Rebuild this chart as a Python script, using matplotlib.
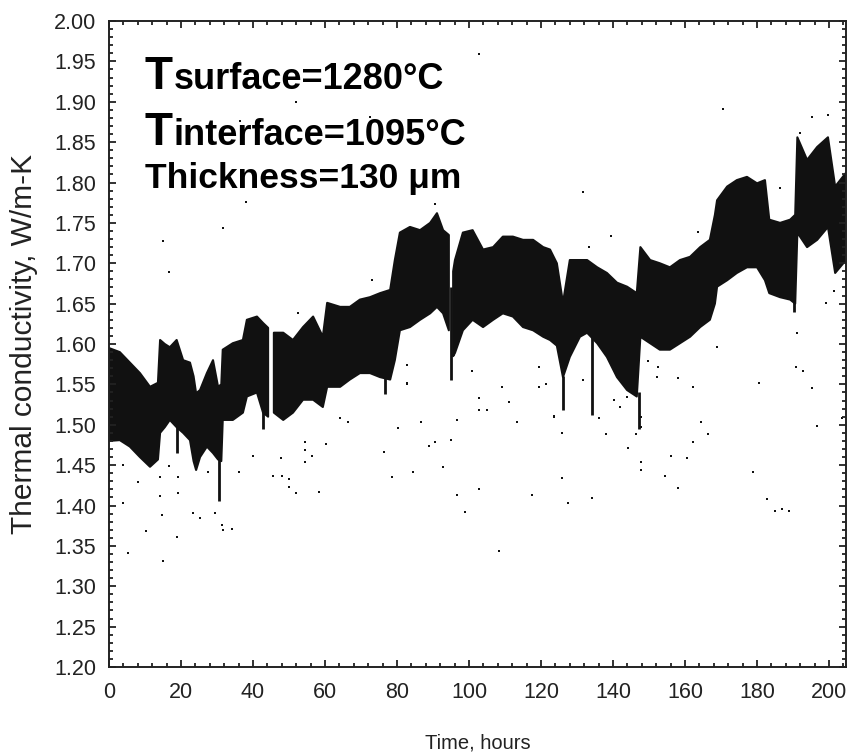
import numpy as np
import matplotlib
matplotlib.use('Agg')
import matplotlib.pyplot as plt
from matplotlib.ticker import MultipleLocator, FormatStrFormatter

# nan marks short gaps where no data was logged.
time_h = [0.0, 3.0, 5.8, 8.6, 11.4, 13.6, 14.2, 15.5, 16.9, 18.8,
          20.6, 22.5, 23.5, 24.2, 25.3, 27.2, 28.9, 30.3, 31.2, 31.6,
          34.4, 37.2, 38.3, 41.1, 42.8, 44.2, 45.0, 45.8, 48.4, 51.1,
          53.9, 56.7, 59.4, 60.6, 64.2, 66.9, 69.7, 72.5, 75.3, 78.1,
          79.4, 80.8, 83.6, 86.4, 89.2, 91.1, 92.8, 94.4, 95.0, 95.6,
          96.1, 98.3, 101.0, 103.9, 106.7, 109.4, 112.2, 115.0, 117.8, 120.6,
          122.5, 124.4, 126.1, 128.0, 130.8, 132.8, 135.6, 138.3, 141.1, 143.9,
          146.6, 147.6, 150.3, 153.0, 155.8, 158.6, 161.4, 164.2, 166.9, 168.3,
          168.9, 171.7, 174.4, 177.2, 180.0, 182.2, 183.4, 186.4, 189.2, 190.6,
          191.2, 193.9, 196.7, 199.7, 201.7, 204.7]
k_high = [1.595, 1.590, 1.577, 1.564, 1.547, 1.552, 1.605, 1.600, 1.596, 1.605,
          1.580, 1.577, 1.560, 1.539, 1.543, 1.564, 1.580, 1.547, 1.550, 1.593,
          1.601, 1.605, 1.630, 1.634, 1.626, 1.620, np.nan, 1.614, 1.614, 1.605,
          1.621, 1.634, 1.609, 1.651, 1.646, 1.646, 1.655, 1.658, 1.663, 1.667,
          1.704, 1.738, 1.745, 1.741, 1.750, 1.762, 1.741, 1.735, np.nan, 1.690,
          1.704, 1.738, 1.741, 1.717, 1.720, 1.733, 1.733, 1.729, 1.729, 1.720,
          1.717, 1.700, 1.651, 1.704, 1.704, 1.704, 1.695, 1.688, 1.676, 1.671,
          1.663, 1.720, 1.704, 1.700, 1.695, 1.704, 1.708, 1.720, 1.729, 1.760,
          1.778, 1.795, 1.803, 1.807, 1.799, 1.803, 1.754, 1.750, 1.754, 1.760,
          1.856, 1.828, 1.844, 1.856, 1.795, 1.812]
k_low = [1.480, 1.481, 1.473, 1.460, 1.448, 1.457, 1.490, 1.497, 1.506, 1.497,
         1.490, 1.481, 1.455, 1.444, 1.460, 1.473, 1.465, 1.457, 1.455, 1.506,
         1.506, 1.515, 1.535, 1.540, 1.515, 1.510, np.nan, 1.515, 1.506, 1.515,
         1.531, 1.531, 1.522, 1.547, 1.547, 1.556, 1.564, 1.564, 1.559, 1.556,
         1.580, 1.617, 1.621, 1.630, 1.638, 1.646, 1.638, 1.617, np.nan, 1.585,
         1.589, 1.617, 1.630, 1.621, 1.630, 1.638, 1.634, 1.621, 1.617, 1.609,
         1.605, 1.598, 1.559, 1.584, 1.609, 1.614, 1.601, 1.584, 1.559, 1.543,
         1.535, 1.609, 1.601, 1.593, 1.593, 1.601, 1.609, 1.621, 1.630, 1.650,
         1.671, 1.679, 1.688, 1.695, 1.695, 1.679, 1.663, 1.658, 1.655, 1.650,
         1.738, 1.720, 1.729, 1.745, 1.688, 1.704]

# narrow downward excursions of the band
spike_t = [18.9, 30.7, 42.9, 76.7, 95.0, 126.0, 134.2, 147.2, 190.4]
spike_top = [1.500, 1.460, 1.520, 1.560, 1.670, 1.560, 1.610, 1.540, 1.660]
spike_bot = [1.465, 1.405, 1.495, 1.538, 1.555, 1.518, 1.512, 1.495, 1.640]

# isolated stray readings
dot_t = [15.0, 16.7, 3.9, 19.2, 14.2, 14.2, 19.2, 3.9, 14.7, 25.3,
         23.4, 29.4, 31.4, 31.7, 34.2, 10.2, 18.9, 27.5, 36.1, 40.0,
         8.0, 16.7, 5.3, 15.0, 31.7, 38.1, 51.9, 36.4, 72.5,
         47.8, 45.6, 48.0, 50.0, 50.0, 51.9, 58.3, 54.4, 54.4, 56.4,
         54.4, 60.3, 64.2, 66.4, 76.4, 78.6, 80.3, 82.8, 73.1, 52.5,
         90.6, 82.8, 82.8, 86.7, 88.9, 90.6, 84.4, 92.8, 95.0, 96.7,
         96.7, 98.9, 102.8, 102.8, 102.8, 105.0, 100.8, 109.2, 111.1, 113.3,
         117.5, 119.4, 119.4, 121.4, 123.6, 108.3, 102.8,
         131.7, 139.4, 133.3, 163.6, 123.6, 125.8, 125.8, 127.5, 131.7, 134.2,
         136.1, 138.0, 140.3, 141.9, 144.2, 146.4, 147.8, 147.8, 147.8, 147.8,
         149.7, 152.2, 152.5, 154.4, 156.1, 158.0, 158.0, 160.6, 162.2, 162.2,
         164.4, 166.4, 143.9,
         170.6, 195.3, 199.7, 191.9, 186.4, 180.6, 190.8, 192.8, 195.3, 196.7,
         168.9, 178.9, 182.8, 185.0, 186.9, 188.9, 201.4, 203.6, 199.2, 191.1]
dot_k = [1.728, 1.689, 1.450, 1.435, 1.435, 1.412, 1.416, 1.403, 1.388, 1.385,
         1.391, 1.391, 1.376, 1.370, 1.371, 1.369, 1.361, 1.442, 1.442, 1.461,
         1.429, 1.449, 1.341, 1.331, 1.744, 1.776, 1.900, 1.876, 1.881,
         1.459, 1.437, 1.437, 1.433, 1.423, 1.416, 1.417, 1.479, 1.469, 1.461,
         1.454, 1.476, 1.508, 1.504, 1.466, 1.435, 1.496, 1.552, 1.679, 1.638,
         1.773, 1.574, 1.551, 1.504, 1.474, 1.479, 1.442, 1.448, 1.481, 1.506,
         1.413, 1.392, 1.421, 1.533, 1.518, 1.518, 1.567, 1.547, 1.528, 1.504,
         1.413, 1.572, 1.547, 1.551, 1.511, 1.344, 1.959,
         1.788, 1.734, 1.720, 1.739, 1.510, 1.490, 1.434, 1.403, 1.556, 1.409,
         1.508, 1.489, 1.531, 1.522, 1.471, 1.489, 1.510, 1.497, 1.454, 1.444,
         1.579, 1.559, 1.572, 1.437, 1.461, 1.558, 1.422, 1.459, 1.547, 1.479,
         1.504, 1.489, 1.535,
         1.891, 1.881, 1.884, 1.861, 1.793, 1.552, 1.572, 1.567, 1.546, 1.499,
         1.596, 1.442, 1.408, 1.393, 1.396, 1.393, 1.666, 1.509, 1.651, 1.614]

x_ticks = [0, 20, 40, 60, 80, 100, 120, 140, 160, 180, 200]

plt.rcParams['font.family'] = ['Liberation Sans', 'DejaVu Sans']

ink = '#111111'
axis_col = '#222222'

fig = plt.figure(figsize=(8.48, 7.56), dpi=100)
ax = fig.add_axes([0.1285, 0.1177, 0.8691, 0.8545])

ax.fill_between(time_h, k_low, k_high, facecolor=ink, edgecolor=ink, linewidth=1.5)
ax.vlines(spike_t, spike_bot, spike_top, color=ink, linewidth=2)
ax.scatter(dot_t, dot_k, s=3, marker='s', color=ink, linewidths=0)

ax.set_xlim(0, 204.7)
ax.set_ylim(1.2, 2.0)
ax.set_xticks(x_ticks)
ax.xaxis.set_minor_locator(MultipleLocator(4))
ax.yaxis.set_major_locator(MultipleLocator(0.05))
ax.yaxis.set_minor_locator(MultipleLocator(0.01))
ax.yaxis.set_major_formatter(FormatStrFormatter('%.2f'))

for s in ax.spines.values():
    s.set_linewidth(1.4)
    s.set_color(axis_col)
ax.tick_params(which='both', direction='in', top=True, right=True,
               width=1.3, color=axis_col, labelsize=15.5, labelcolor=axis_col)
ax.tick_params(which='major', length=5)
ax.tick_params(which='minor', length=3)
ax.tick_params(axis='x', pad=11)
ax.tick_params(axis='y', pad=9)

ax.set_xlabel('Time, hours', fontsize=14.5, color=axis_col, labelpad=22)
ax.set_ylabel('Thermal conductivity, W/m-K', fontsize=21.5, color=axis_col, labelpad=12)

# annotation block, big leading T on the first two lines
bold = dict(weight='bold', color='black', va='baseline')
ax.text(10.0, 1.916, 'T', fontsize=33, **bold)
ax.text(18.0, 1.916, 'surface=1280°C', fontsize=26, **bold)
ax.text(10.0, 1.8465, 'T', fontsize=33, **bold)
ax.text(18.0, 1.8465, 'interface=1095°C', fontsize=26, **bold)
ax.text(10.0, 1.793, 'Thickness=130 μm', fontsize=25.5, **bold)

fig.savefig('out.png', dpi=100)
